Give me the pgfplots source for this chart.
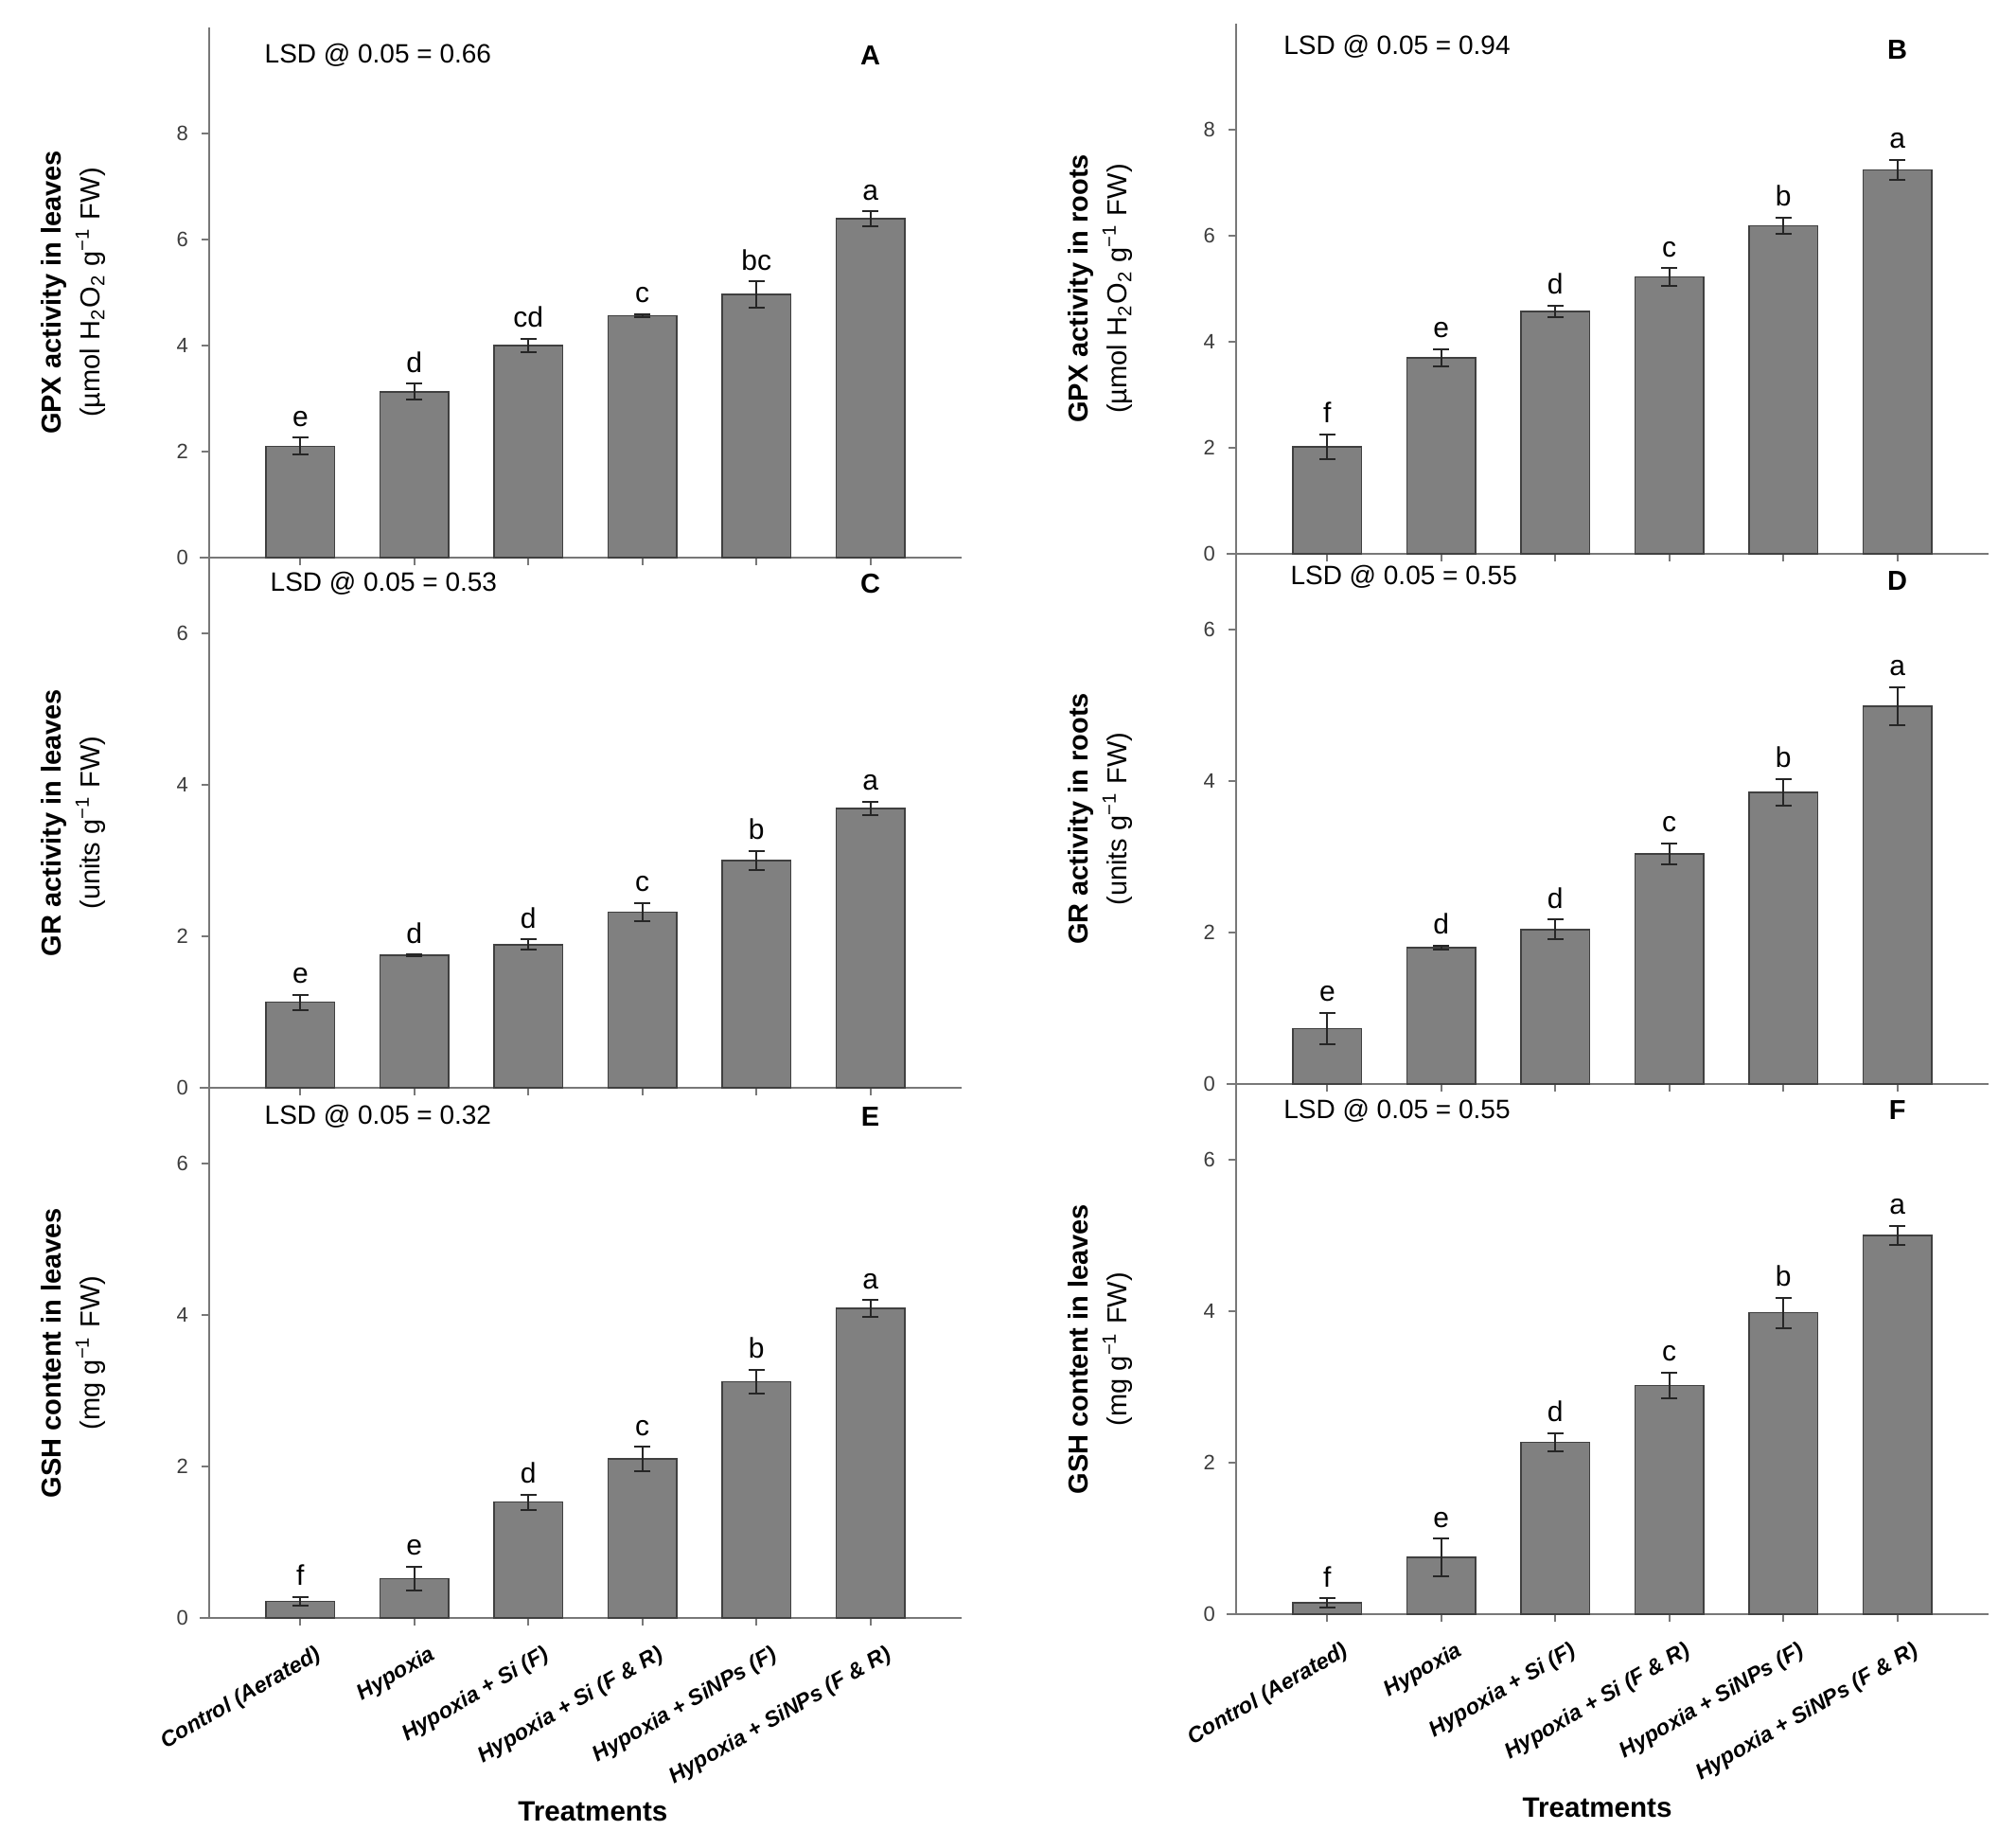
\documentclass[border=0pt]{standalone}
\usepackage{fontspec}
\setmainfont{Liberation Sans}
\usepackage{pgfplots}
\usepackage{pgfplotstable}
\pgfplotsset{compat=1.18}

\definecolor{barfill}{RGB}{128,128,128}
\definecolor{baredge}{RGB}{64,64,64}
\definecolor{axisgray}{RGB}{120,120,120}
\definecolor{ticktext}{RGB}{60,60,60}

% x = treatment, y = mean, e = error, l = letter
\pgfplotstableread{
x y e l
1 2.10 0.16 e
2 3.13 0.15 d
3 4.00 0.13 cd
4 4.56 0.03 c
5 4.96 0.25 bc
6 6.39 0.14 a
}\dataA
\pgfplotstableread{
x y e l
1 2.02 0.23 f
2 3.70 0.16 e
3 4.57 0.11 d
4 5.22 0.17 c
5 6.19 0.15 b
6 7.24 0.19 a
}\dataB
\pgfplotstableread{
x y e l
1 1.13 0.10 e
2 1.75 0.01 d
3 1.89 0.07 d
4 2.32 0.12 c
5 3.00 0.13 b
6 3.69 0.09 a
}\dataC
\pgfplotstableread{
x y e l
1 0.73 0.21 e
2 1.80 0.03 d
3 2.04 0.13 d
4 3.04 0.14 c
5 3.85 0.18 b
6 4.99 0.25 a
}\dataD
\pgfplotstableread{
x y e l
1 0.22 0.06 f
2 0.52 0.16 e
3 1.53 0.10 d
4 2.10 0.16 c
5 3.12 0.16 b
6 4.09 0.11 a
}\dataE
\pgfplotstableread{
x y e l
1 0.15 0.06 f
2 0.75 0.25 e
3 2.27 0.12 d
4 3.02 0.17 c
5 3.98 0.20 b
6 5.00 0.13 a
}\dataF

\pgfplotsset{
  panel/.style={
    scale only axis, width=198.75pt, height=140pt,
    anchor=south west,
    xmin=0.2, xmax=6.8, ymin=0,
    axis x line=bottom, axis y line=left,
    axis line style={-, axisgray, line width=0.6pt},
    x axis line style={shorten <=-2.5pt},
    xtick={1,...,6}, xticklabels={},
    tick align=outside, major tick length=2pt,
    tick style={axisgray, line width=0.5pt},
    yticklabel style={font=\fontsize{5.5}{6}\selectfont, text=ticktext},
    /pgf/number format/assume math mode=true,
    ylabel style={at={(axis description cs:-0.18,0.5)}, anchor=center,
      align=center, font=\fontsize{7.25}{10.25}\selectfont},
    clip=false,
  },
  tall/.style={ymax=10, ytick={0,2,4,6,8}},
  short/.style={ymax=7, ytick={0,2,4,6}},
  bottompanel/.style={
    xticklabels={Control (Aerated), Hypoxia, Hypoxia + Si (F),
      Hypoxia + Si (F \& R), Hypoxia + SiNPs (F), Hypoxia + SiNPs (F \& R)},
    xticklabel style={xshift=3.75pt, yshift=-4.75pt, rotate=30,
      anchor=north east, inner sep=0pt,
      font=\bfseries\itshape\fontsize{5.8}{6}\selectfont},
    xlabel={Treatments},
    xlabel style={at={(axis description cs:#1,0)}, yshift=-51pt,
      anchor=center, font=\bfseries\fontsize{7.4}{8}\selectfont},
  },
}

\newcommand{\panelbars}[1]{%
  \addplot[ybar, bar width=0.6, bar shift=0pt, fill=barfill, draw=baredge,
    line width=0.4pt,
    error bars/.cd, y dir=both, y explicit,
    error bar style={line width=0.5pt, black!85},
    error mark options={rotate=90, line width=0.5pt, black!85, mark size=2.15pt}]
    table[x=x, y=y, y error=e] {#1};
  \addplot[draw=none, nodes near coords, point meta=explicit symbolic,
    nodes near coords style={anchor=base, yshift=3pt, inner sep=0pt,
      font=\fontsize{7.5}{8}\selectfont}]
    table[x=x, y expr=\thisrow{y}+\thisrow{e}, meta=l] {#1};
}

\newcommand{\lsd}{\fontsize{7}{8}\selectfont}
\newcommand{\tag}{\bfseries\fontsize{7.25}{8}\selectfont}

\begin{document}
\begin{tikzpicture}
\useasboundingbox (0,0) rectangle (532.5pt,487.75pt);

% A
\begin{axis}[panel, tall, at={(55.25pt,340.5pt)},
  ylabel={\textbf{GPX activity in leaves}\\(µmol H\textsubscript{2}O\textsubscript{2} g\textsuperscript{−1} FW)}]
\panelbars{\dataA}
\node[anchor=west, font=\lsd] at (axis cs:0.57,9.48) {LSD @ 0.05 = 0.66};
\node[font=\tag] at (axis cs:6,9.48) {A};
\end{axis}

% C
\begin{axis}[panel, short, at={(55.25pt,200.5pt)},
  ylabel={\textbf{GR activity in leaves}\\(units g\textsuperscript{−1} FW)}]
\panelbars{\dataC}
\node[anchor=west, font=\lsd] at (axis cs:0.62,6.66) {LSD @ 0.05 = 0.53};
\node[font=\tag] at (axis cs:6,6.66) {C};
\end{axis}

% E
\begin{axis}[panel, short, bottompanel=0.51, at={(55.25pt,60.5pt)},
  ylabel={\textbf{GSH content in leaves}\\(mg g\textsuperscript{−1} FW)}]
\panelbars{\dataE}
\node[anchor=west, font=\lsd] at (axis cs:0.57,6.62) {LSD @ 0.05 = 0.32};
\node[font=\tag] at (axis cs:6,6.62) {E};
\end{axis}

% B
\begin{axis}[panel, tall, at={(326.5pt,341.5pt)},
  ylabel={\textbf{GPX activity in roots}\\(µmol H\textsubscript{2}O\textsubscript{2} g\textsuperscript{−1} FW)}]
\panelbars{\dataB}
\node[anchor=west, font=\lsd] at (axis cs:0.5,9.56) {LSD @ 0.05 = 0.94};
\node[font=\tag] at (axis cs:6,9.5) {B};
\end{axis}

% D
\begin{axis}[panel, short, at={(326.5pt,201.5pt)},
  ylabel={\textbf{GR activity in roots}\\(units g\textsuperscript{−1} FW)}]
\panelbars{\dataD}
\node[anchor=west, font=\lsd] at (axis cs:0.56,6.70) {LSD @ 0.05 = 0.55};
\node[font=\tag] at (axis cs:6,6.64) {D};
\end{axis}

% F
\begin{axis}[panel, short, bottompanel=0.48, at={(326.5pt,61.5pt)},
  ylabel={\textbf{GSH content in leaves}\\(mg g\textsuperscript{−1} FW)}]
\panelbars{\dataF}
\node[anchor=west, font=\lsd] at (axis cs:0.5,6.65) {LSD @ 0.05 = 0.55};
\node[font=\tag] at (axis cs:6,6.65) {F};
\end{axis}
\end{tikzpicture}
\end{document}
